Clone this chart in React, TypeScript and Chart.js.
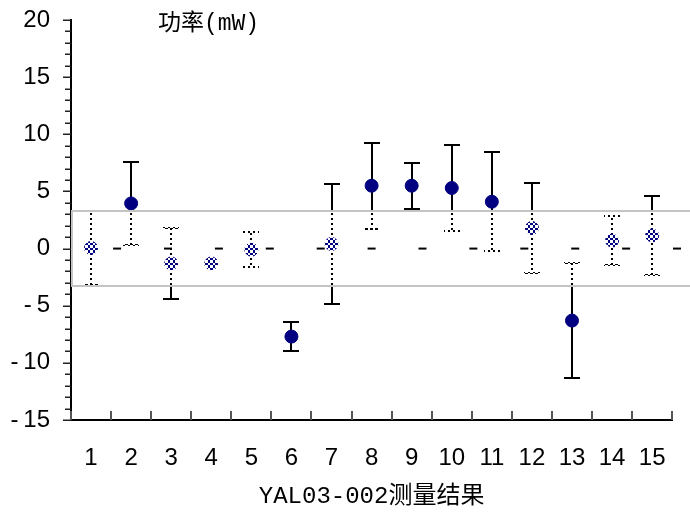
import React, { useEffect, useRef } from 'react';
import { Chart, registerables } from 'chart.js';

Chart.register(...registerables);

// ---- data ----
const categories = [1, 2, 3, 4, 5, 6, 7, 8, 9, 10, 11, 12, 13, 14, 15];
const values = [0.05, 3.95, -1.3, -1.3, -0.1, -7.7, 0.4, 5.5, 5.5, 5.3, 4.1, 1.8, -6.3, 0.7, 1.15];
const errors = [3.2, 3.6, 3.1, 0, 1.55, 1.3, 5.25, 3.75, 2.0, 3.8, 4.35, 3.95, 5.0, 2.15, 3.43];
const zeroMarkX = [1.65, 2.92, 4.19, 5.46, 6.73, 8.0, 9.27, 10.54, 11.81, 13.08, 14.35, 15.62];
const zeroMarkY = [0, 0, 0, 0, 0, 0, 0, 0, 0, 0, 0, 0];
const yTickLabels = [20, 15, 10, 5, 0, -5, -10, -15];
const yMin = -15;
const yMax = 20;
const bandHigh = 3.25;
const bandLow = -3.3;
const chartTitle = '功率(mW)';
const xTitle = 'YAL03-002测量结果';

const TITLE_FONT = '"Liberation Mono", "Noto Sans CJK SC", monospace';
const TICK_FONT = '"Liberation Sans", Arial, sans-serif';

function makeDither(ctx: CanvasRenderingContext2D) {
  const c = document.createElement('canvas');
  c.width = 5;
  c.height = 5;
  const g = c.getContext('2d')!;
  g.fillStyle = '#ffffff';
  for (let yy = 0; yy < 5; yy++) {
    for (let xx = 0; xx < 5; xx++) {
      const bx = Math.floor(xx / 2.5);
      const by = Math.floor(yy / 2.5);
      if ((bx + by) % 2 === 0) g.fillRect(xx, yy, 1, 1);
    }
  }
  return ctx.createPattern(c, 'repeat')!;
}

const customPlugin = {
  id: 'customDraw',
  beforeDatasetDraw(chart: any, args: any) {
    if (args.index !== 0) return;
    const { ctx } = chart;
    const x = chart.scales.x;
    const y = chart.scales.y;
    ctx.save();
    ctx.strokeStyle = '#000';
    ctx.lineWidth = 2;
    values.forEach((v, i) => {
      const e = errors[i];
      if (!e) return;
      const px = Math.round(x.getPixelForValue(categories[i]));
      const top = Math.round(y.getPixelForValue(v + e));
      const bot = Math.round(y.getPixelForValue(v - e));
      ctx.beginPath();
      ctx.moveTo(px, top);
      ctx.lineTo(px, bot);
      ctx.moveTo(px - 8, top);
      ctx.lineTo(px + 8, top);
      ctx.moveTo(px - 8, bot);
      ctx.lineTo(px + 8, bot);
      ctx.stroke();
    });
    ctx.restore();
  },
  afterDatasetDraw(chart: any, args: any) {
    if (args.index !== 0) return;
    const { ctx, chartArea, width } = chart;
    const y = chart.scales.y;
    const t = Math.round(y.getPixelForValue(bandHigh));
    const b = Math.round(y.getPixelForValue(bandLow));
    const l = Math.round(chartArea.left);
    ctx.save();
    ctx.fillStyle = makeDither(ctx);
    ctx.fillRect(l, t, width - l + 10, b - t);
    ctx.strokeStyle = '#c4c4c4';
    ctx.lineWidth = 2;
    ctx.strokeRect(l + 1, t, width - l + 20, b - t);
    ctx.restore();
  },
  afterDraw(chart: any) {
    const { ctx, chartArea } = chart;
    const x = chart.scales.x;
    const y = chart.scales.y;
    ctx.save();
    // y tick marks (major + minor)
    ctx.strokeStyle = '#222';
    ctx.lineWidth = 1.5;
    for (let v = yMin; v <= yMax; v++) {
      const py = Math.round(y.getPixelForValue(v)) + 0.25;
      const len = v % 5 === 0 ? 8 : 6;
      ctx.beginPath();
      ctx.moveTo(chartArea.left - len, py);
      ctx.lineTo(chartArea.left, py);
      ctx.stroke();
    }
    // x tick marks at category boundaries, pointing up
    ctx.strokeStyle = '#555';
    ctx.lineWidth = 2;
    for (let i = 0; i <= categories.length; i++) {
      const px = Math.round(x.getPixelForValue(categories[0] - 0.5 + i));
      ctx.beginPath();
      ctx.moveTo(px, chartArea.bottom);
      ctx.lineTo(px, chartArea.bottom - 9);
      ctx.stroke();
    }
    // titles
    ctx.fillStyle = '#000';
    ctx.textAlign = 'center';
    ctx.textBaseline = 'middle';
    ctx.font = `23px ${TITLE_FONT}`;
    ctx.fillText(chartTitle, 208.5, 24);
    ctx.font = `24px ${TITLE_FONT}`;
    ctx.fillText(xTitle, (chartArea.left + chartArea.right) / 2, 497);
    ctx.restore();
  },
};

export default function App() {
  const ref = useRef<HTMLCanvasElement | null>(null);
  useEffect(() => {
    document.body.style.margin = '0';
    const canvas = ref.current!;
    const chart = new Chart(canvas, {
      type: 'scatter',
      data: {
        datasets: [
          {
            label: 'power',
            data: categories.map((c, i) => ({ x: c, y: values[i] })),
            pointRadius: 6.5,
            pointHoverRadius: 6.5,
            backgroundColor: '#000080',
            borderColor: '#000080',
            borderWidth: 1,
            order: 1,
          },
          {
            label: 'zero',
            data: zeroMarkX.map((v, i) => ({ x: v, y: zeroMarkY[i] })),
            pointStyle: 'line',
            pointRadius: 4,
            pointHoverRadius: 4,
            borderColor: '#000',
            borderWidth: 2,
            clip: false as any,
            order: 0,
          },
        ],
      },
      options: {
        animation: false,
        responsive: true,
        maintainAspectRatio: false,
        devicePixelRatio: 1,
        layout: { padding: { top: 20, right: 15, left: 0, bottom: 0 } },
        plugins: { legend: { display: false }, tooltip: { enabled: false } },
        events: [],
        scales: {
          x: {
            type: 'linear',
            min: 0.5,
            max: 15.5,
            afterBuildTicks: (s: any) => {
              s.ticks = categories.map((v) => ({ value: v }));
            },
            afterFit: (s: any) => {
              s.height = 97;
            },
            ticks: {
              autoSkip: false,
              maxRotation: 0,
              padding: 24,
              color: '#000',
              font: { family: TICK_FONT, size: 24 },
              callback: (v: any) => String(v),
            },
            grid: { display: false, drawTicks: false },
            border: { display: true, color: '#000', width: 2 },
          },
          y: {
            min: yMin,
            max: yMax,
            afterBuildTicks: (s: any) => {
              s.ticks = yTickLabels.map((v) => ({ value: v }));
            },
            afterFit: (s: any) => {
              s.width = 71;
            },
            ticks: {
              autoSkip: false,
              padding: 5,
              color: '#000',
              font: { family: TICK_FONT, size: 24 },
              callback: (v: any) => (v < 0 ? '-\u2009' + Math.abs(v) : String(v)),
            },
            grid: {
              display: true,
              drawOnChartArea: false,
              drawTicks: true,
              tickLength: 16,
              tickColor: 'rgba(0,0,0,0)',
              color: 'rgba(0,0,0,0)',
            },
            border: { display: true, color: '#000', width: 2 },
          },
        },
      },
      plugins: [customPlugin],
    });
    return () => chart.destroy();
  }, []);
  return (
    <div style={{ position: 'absolute', left: 0, top: 0, width: 690, height: 517 }}>
      <canvas ref={ref} />
    </div>
  );
}
